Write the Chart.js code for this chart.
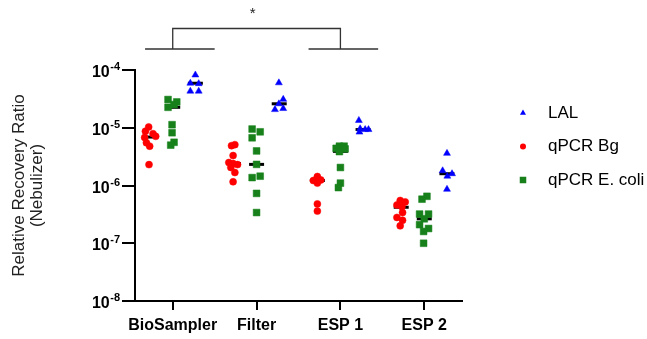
<!DOCTYPE html>
<html>
<head>
<meta charset="utf-8">
<script src="https://cdn.jsdelivr.net/npm/chart.js@4.4.1/dist/chart.umd.min.js"></script>
<style>
  html, body { margin: 0; padding: 0; background: #fff; }
  #wrap { width: 647px; height: 339px; }
</style>
</head>
<body>
<div id="wrap"><canvas id="chart" width="647" height="339"></canvas></div>
<script>
const FONT = "'Liberation Sans', Arial, Helvetica, sans-serif";

// x categories and y decades
const categories = ['BioSampler', 'Filter', 'ESP 1', 'ESP 2'];
const decades = [1e-8, 1e-7, 1e-6, 1e-5, 1e-4];

// LAL (blue triangles)
const lalValues = [
  [8.2e-5, 5.9e-5, 5.8e-5, 4.3e-5, 4.3e-5],
  [6.0e-5, 3.1e-5, 2.6e-5, 2.15e-5, 2.06e-5],
  [1.34e-5, 9.6e-6, 9.3e-6, 9.3e-6, 8.4e-6],
  [3.6e-6, 1.8e-6, 1.6e-6, 1.45e-6, 8.6e-7]
];
const lalJitter = [
  [0.27, 0.21, 0.31, 0.21, 0.31],
  [0.266, 0.318, 0.266, 0.318, 0.219],
  [0.22, 0.235, 0.295, 0.335, 0.227],
  [0.271, 0.219, 0.331, 0.275, 0.271]
];
const lalMedians = [5.9e-5, 2.6e-5, 9.3e-6, 1.6e-6];

// qPCR Bg (red circles)
const bgValues = [
  [1.03e-5, 8.7e-6, 7.9e-6, 7.1e-6, 6.8e-6, 5.5e-6, 4.8e-6, 2.3e-6],
  [5.1e-6, 4.9e-6, 3.3e-6, 2.5e-6, 2.4e-6, 2.3e-6, 2.05e-6, 1.68e-6, 1.16e-6],
  [1.43e-6, 1.25e-6, 1.25e-6, 1.22e-6, 1.1e-6, 4.8e-7, 3.6e-7],
  [5.5e-7, 5.2e-7, 4.6e-7, 4.3e-7, 3.4e-7, 2.8e-7, 2.5e-7, 2.0e-7]
];
const bgJitter = [
  [-0.287, -0.326, -0.235, -0.203, -0.335, -0.314, -0.275, -0.283],
  [-0.259, -0.299, -0.28, -0.331, -0.28, -0.227, -0.307, -0.259, -0.28],
  [-0.275, -0.278, -0.234, -0.323, -0.275, -0.275, -0.275],
  [-0.287, -0.227, -0.326, -0.266, -0.259, -0.326, -0.259, -0.287]
];
const bgMedians = [6.9e-6, 2.4e-6, 1.22e-6, 4.2e-7];

// qPCR E. coli (green squares)
const ecoliValues = [
  [3.08e-5, 2.8e-5, 2.52e-5, 2.26e-5, 1.13e-5, 8.2e-6, 5.6e-6, 5.0e-6],
  [9.5e-6, 8.5e-6, 6.7e-6, 3.97e-6, 2.32e-6, 1.37e-6, 1.45e-6, 7.3e-7, 3.4e-7],
  [4.8e-6, 4.8e-6, 4.4e-6, 4.3e-6, 3.86e-6, 2.05e-6, 1.1e-6, 9.2e-7],
  [6.5e-7, 5.8e-7, 3.2e-7, 3.2e-7, 2.65e-7, 2.1e-7, 1.8e-7, 1.6e-7, 1.0e-7]
];
const ecoliJitter = [
  [-0.056, 0.048, 0.016, -0.056, -0.008, -0.008, 0.016, -0.024],
  [-0.053, 0.043, -0.053, 0, 0, -0.053, 0.043, 0, 0],
  [-0.012, 0.044, -0.051, 0.056, -0.012, 0, 0, -0.024],
  [0.032, -0.027, -0.056, 0.051, 0, -0.056, 0.051, -0.008, -0.008]
];
const ecoliMedians = [2.26e-5, 2.32e-6, 3.9e-6, 2.65e-7];

// significance bracket: BioSampler vs ESP 1
const sigFrom = 0, sigTo = 2, sigLabel = '*';

function toPoints(values, jitter) {
  const pts = [];
  values.forEach((vals, ci) => {
    vals.forEach((v, k) => pts.push({ x: ci + jitter[ci][k], y: v }));
  });
  return pts;
}

function medianPoints(medians, offset) {
  return medians.map((m, ci) => ({ x: ci + offset, y: m }));
}

const datasets = [
  {
    label: 'LAL',
    data: toPoints(lalValues, lalJitter),
    pointStyle: 'triangle',
    pointRadius: 4,
    backgroundColor: '#0000ff',
    borderColor: '#0000ff',
    borderWidth: 0.5,
    legendRadius: 3.5
  },
  {
    label: 'qPCR Bg',
    data: toPoints(bgValues, bgJitter),
    pointStyle: 'circle',
    pointRadius: 3.5,
    backgroundColor: '#ff0000',
    borderColor: '#ff0000',
    borderWidth: 0.5,
    legendRadius: 3
  },
  {
    label: 'qPCR E. coli',
    data: toPoints(ecoliValues, ecoliJitter),
    pointStyle: 'rect',
    pointRadius: 4.8,
    backgroundColor: '#17801a',
    borderColor: '#17801a',
    borderWidth: 0.5,
    legendRadius: 4.6
  },
  {
    label: 'median',
    data: [].concat(
      medianPoints(lalMedians, 0.27),
      medianPoints(bgMedians, -0.275),
      medianPoints(ecoliMedians, 0)
    ),
    pointStyle: 'line',
    pointRadius: 7.5,
    borderColor: '#000',
    borderWidth: 3,
    isMedian: true
  }
];

// superscript tick labels on the y axis
const yLabels = {
  id: 'yLabels',
  afterDraw(chart) {
    const ctx = chart.ctx;
    const ys = chart.scales.y;
    const right = ys.right - 15;
    ctx.save();
    ctx.fillStyle = '#000';
    ctx.textBaseline = 'alphabetic';
    decades.forEach(d => {
      const y = ys.getPixelForValue(d);
      const exp = String(Math.round(Math.log10(d)));
      ctx.font = 'bold 11px ' + FONT;
      const ew = ctx.measureText(exp).width;
      ctx.textAlign = 'right';
      ctx.fillText(exp, right, y);
      ctx.font = 'bold 16px ' + FONT;
      ctx.fillText('10', right - ew - 0.5, y + 7);
    });
    ctx.restore();
  }
};

// significance bracket above the plot
const bracket = {
  id: 'bracket',
  afterDraw(chart) {
    const ctx = chart.ctx;
    const xs = chart.scales.x;
    const top = chart.chartArea.top;
    const baseY = top - 21;
    const topY = top - 41.5;
    const x1 = xs.getPixelForValue(sigFrom);
    const x2 = xs.getPixelForValue(sigTo);
    ctx.save();
    ctx.strokeStyle = '#333';
    ctx.lineWidth = 1.3;
    ctx.beginPath();
    ctx.moveTo(xs.getPixelForValue(sigFrom - 0.33), baseY);
    ctx.lineTo(xs.getPixelForValue(sigFrom + 0.5), baseY);
    ctx.moveTo(xs.getPixelForValue(sigTo - 0.38), baseY);
    ctx.lineTo(xs.getPixelForValue(sigTo + 0.45), baseY);
    ctx.moveTo(x1, baseY);
    ctx.lineTo(x1, topY);
    ctx.lineTo(x2, topY);
    ctx.lineTo(x2, baseY);
    ctx.stroke();
    ctx.fillStyle = '#222';
    ctx.font = '15px ' + FONT;
    ctx.textAlign = 'center';
    ctx.textBaseline = 'alphabetic';
    ctx.fillText(sigLabel, (x1 + x2) / 2 - 4, top - 52);
    ctx.restore();
  }
};

// legend on the right
const sideLegend = {
  id: 'sideLegend',
  afterDraw(chart) {
    const ctx = chart.ctx;
    const mx = chart.chartArea.right + 61;
    const tx = mx + 25;
    let y = 113;
    ctx.save();
    chart.data.datasets.filter(ds => !ds.isMedian).forEach(ds => {
      const r = ds.legendRadius;
      ctx.fillStyle = ds.backgroundColor;
      ctx.beginPath();
      if (ds.pointStyle === 'circle') {
        ctx.arc(mx, y, r, 0, Math.PI * 2);
      } else if (ds.pointStyle === 'rect') {
        const s = r * Math.SQRT1_2;
        ctx.rect(mx - s, y - s, 2 * s, 2 * s);
      } else {
        ctx.moveTo(mx, y - r);
        ctx.lineTo(mx + r * 0.866, y + r / 2);
        ctx.lineTo(mx - r * 0.866, y + r / 2);
        ctx.closePath();
      }
      ctx.fill();
      ctx.fillStyle = '#000';
      ctx.font = '17px ' + FONT;
      ctx.textAlign = 'left';
      ctx.textBaseline = 'middle';
      ctx.fillText(ds.label, tx, y);
      y += 33.5;
    });
    ctx.restore();
  }
};

new Chart(document.getElementById('chart'), {
  type: 'scatter',
  data: { datasets: datasets },
  options: {
    responsive: false,
    animation: false,
    devicePixelRatio: 1,
    events: [],
    layout: { padding: { top: 70, right: 185, left: 0, bottom: 0 } },
    plugins: { legend: { display: false }, tooltip: { enabled: false } },
    scales: {
      x: {
        type: 'linear',
        min: -0.45,
        max: 3.45,
        afterBuildTicks: s => { s.ticks = categories.map((c, i) => ({ value: i })); },
        afterFit: s => { s.height = 38; },
        ticks: {
          callback: v => categories[v],
          autoSkip: false,
          maxRotation: 0,
          padding: 6,
          color: '#000',
          font: { family: FONT, size: 16, weight: 'bold' }
        },
        grid: { drawOnChartArea: false, drawTicks: true, tickLength: 9, color: '#000', lineWidth: 2 },
        border: { color: '#000', width: 2 }
      },
      y: {
        type: 'logarithmic',
        min: 1e-8,
        max: 1e-4,
        afterBuildTicks: s => { s.ticks = decades.map(v => ({ value: v })); },
        afterFit: s => { s.width = 135; },
        ticks: { display: false },
        grid: { drawOnChartArea: false, drawTicks: true, tickLength: 13, color: '#000', lineWidth: 2 },
        border: { color: '#000', width: 2 },
        title: {
          display: true,
          text: ['Relative Recovery Ratio', '(Nebulizer)'],
          color: '#222',
          font: { family: FONT, size: 17, lineHeight: 1.02 },
          padding: { top: 11, bottom: 0 }
        }
      }
    }
  },
  plugins: [yLabels, bracket, sideLegend]
});
</script>
</body>
</html>
